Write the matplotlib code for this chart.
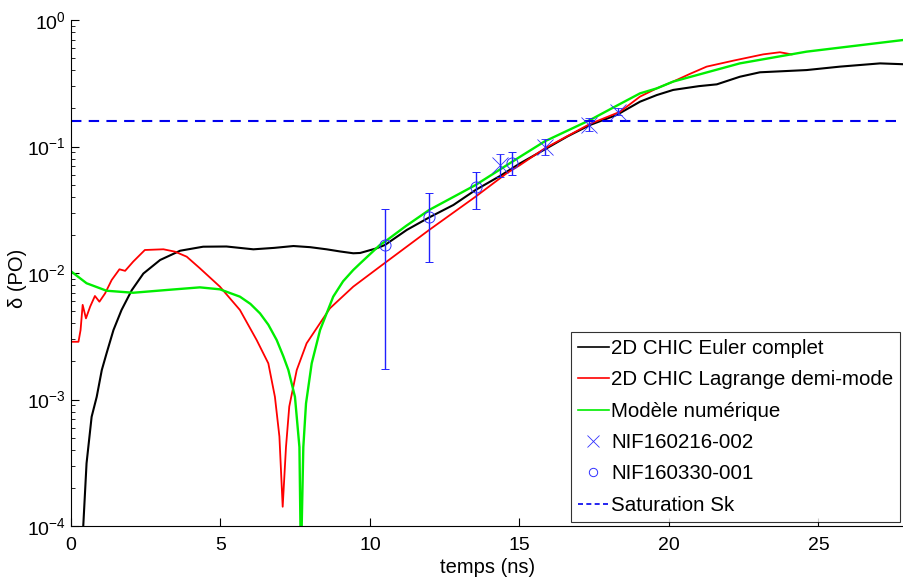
import matplotlib
matplotlib.use('Agg')
import matplotlib.pyplot as plt
from matplotlib.lines import Line2D
import numpy as np

plt.rcParams['font.family'] = ['Liberation Sans', 'DejaVu Sans']
plt.rcParams['mathtext.default'] = 'regular'

# 2D CHIC Euler complet
euler_t = [0.41, 0.52, 0.69, 0.86, 1.03, 1.19, 1.42, 1.69, 2.03, 2.42, 2.98, 3.65, 4.42,
           5.2, 6.1, 6.8, 7.44, 8.0, 8.55, 9.0, 9.44, 9.67, 10.22, 10.5, 11.23, 11.98,
           12.79, 13.53, 14.35, 15.02, 15.85, 16.6, 17.36, 18.25, 19.03, 19.59, 20.14,
           21.0, 21.6, 22.37, 23.04, 24.6, 25.72, 27.06, 27.84]
euler_d = [1.0e-4, 3.13e-4, 7.3e-4, 1.05e-3, 1.71e-3, 2.32e-3, 3.54e-3, 5.1e-3, 7.3e-3,
           9.9e-3, 0.01267, 0.0150, 0.01614, 0.0162, 0.01539, 0.0158, 0.01634, 0.0160,
           0.01539, 0.0148, 0.01432, 0.01440, 0.01567, 0.01665, 0.0219, 0.0275,
           0.0345, 0.0453, 0.0585, 0.0736, 0.0950, 0.120, 0.148, 0.1775, 0.226, 0.255, 0.280,
           0.300, 0.310, 0.356, 0.386, 0.402, 0.428, 0.454, 0.447]

# 2D CHIC Lagrange demi-mode
lag_t = [0.02, 0.25, 0.32, 0.39, 0.50, 0.64, 0.80, 0.95, 1.14, 1.36, 1.62, 1.81, 2.08,
         2.47, 3.09, 3.48, 3.87, 4.31, 4.98, 5.65, 6.21, 6.6, 6.82, 6.97, 7.08, 7.19,
         7.30, 7.55, 7.88, 8.66, 9.44, 10.33, 11.98, 13.53, 14.57, 15.02, 15.85,
         17.36, 18.36, 19.03, 19.59, 20.14, 20.7, 21.26, 22.15, 23.15, 23.71, 24.1]
lag_d = [2.86e-3, 2.86e-3, 3.54e-3, 5.6e-3, 4.38e-3, 5.42e-3, 6.58e-3, 5.93e-3, 6.9e-3,
         8.8e-3, 0.0107, 0.0104, 0.0123, 0.0152, 0.0154, 0.01474, 0.01346, 0.0109,
         7.8e-3, 5.1e-3, 2.95e-3, 1.93e-3, 1.05e-3, 5.1e-4, 1.42e-4, 4.2e-4, 8.8e-4,
         1.71e-3, 2.78e-3, 5.26e-3, 7.8e-3, 0.01122, 0.0219, 0.0401, 0.0614, 0.0714,
         0.0968, 0.151, 0.188, 0.248, 0.288, 0.326, 0.375, 0.428, 0.477, 0.535, 0.556, 0.535]

# Modele numerique
mod_t = [0.02, 0.52, 1.19, 2.08, 3.2, 4.31, 4.98, 5.65, 6.0, 6.32, 6.6, 6.88, 7.1, 7.27,
         7.49, 7.64, 7.69, 7.77, 7.86, 8.05, 8.33, 8.77, 9.1, 9.44, 9.67, 10.33, 10.5,
         11.2, 11.98, 13.53, 15.02, 15.85, 17.36, 18.25, 19.03, 19.59, 20.14, 22.37,
         24.6, 27.84]
mod_d = [0.01023, 8.3e-3, 7.24e-3, 6.98e-3, 7.34e-3, 7.7e-3, 7.43e-3, 6.5e-3, 5.7e-3,
         4.8e-3, 3.9e-3, 2.95e-3, 2.2e-3, 1.71e-3, 1.05e-3, 4.2e-4, 5e-5, 4.2e-4, 9.3e-4,
         1.93e-3, 3.54e-3, 6.5e-3, 8.6e-3, 0.01056, 0.0119, 0.01665, 0.0177, 0.0235,
         0.0315, 0.0496, 0.083, 0.110, 0.162, 0.210, 0.263, 0.288, 0.326, 0.454, 0.562,
         0.695]

# NIF160216-002 (crosses)
x1_t = [14.35, 15.85, 17.34, 18.31]
x1_d = [0.0714, 0.0985, 0.148, 0.188]
x1_lo = [0.0577, 0.0857, 0.133, 0.177]
x1_hi = [0.0867, 0.114, 0.167, 0.200]

# NIF160330-001 (circles)
c1_t = [10.5, 11.98, 13.53, 14.76]
c1_d = [0.0167, 0.0279, 0.0481, 0.0736]
c1_lo = [0.00174, 0.0123, 0.0321, 0.0595]
c1_hi = [0.0319, 0.0427, 0.0625, 0.090]

sat_sk = 0.159

fig = plt.figure(figsize=(9.04, 5.88), dpi=100)
ax = fig.add_axes([71/904, 62/588, 833/904, 506/588])

ax.plot(euler_t, euler_d, color='black', lw=1.5)
ax.plot(lag_t, lag_d, color='red', lw=1.3)
ax.plot(mod_t, mod_d, color='#00ee00', lw=1.7)

blue = '#3030ff'
x1_err = [np.array(x1_d) - np.array(x1_lo), np.array(x1_hi) - np.array(x1_d)]
ax.errorbar(x1_t, x1_d, yerr=x1_err, fmt='x', color=blue, ms=11, mew=0.6,
            ecolor='#2020ff', elinewidth=1, capsize=3)
c1_err = [np.array(c1_d) - np.array(c1_lo), np.array(c1_hi) - np.array(c1_d)]
ax.errorbar(c1_t, c1_d, yerr=c1_err, fmt='o', color=blue, ms=8, mfc='none', mew=0.7,
            ecolor='#2020ff', elinewidth=1, capsize=3)
ax.axhline(sat_sk, color='#0000ee', ls='--', lw=1.5, dashes=(5, 3.5))

ax.set_yscale('log')
ax.set_ylim(1e-4, 1)
ax.set_xlim(0, 27.86)
ax.set_xticks([0, 5, 10, 15, 20, 25])
ax.tick_params(which='both', direction='in', labelsize=14)
ax.tick_params(which='major', length=6)
ax.tick_params(which='minor', length=3)
ax.tick_params(axis='x', pad=8)
ax.spines['top'].set_visible(False)
ax.spines['right'].set_visible(False)

ax.set_xlabel('temps (ns)', fontsize=14.5, labelpad=3)
ax.set_ylabel('δ (PO)', fontsize=14.5)
ax.yaxis.set_label_coords(-0.053, 0.49)

handles = [
    Line2D([], [], color='black', lw=1.2),
    Line2D([], [], color='red', lw=1.2),
    Line2D([], [], color='#00ee00', lw=1.2),
    Line2D([], [], color=blue, ls='none', marker='x', ms=9, mew=0.6),
    Line2D([], [], color=blue, ls='none', marker='o', ms=6, mfc='none', mew=0.7),
    Line2D([], [], color='#0000ee', ls='--', lw=1.2, dashes=(3, 2)),
]
labels = ['2D CHIC Euler complet', '2D CHIC Lagrange demi-mode', 'Modèle numérique',
          'NIF160216-002', 'NIF160330-001', 'Saturation Sk']
leg = ax.legend(handles, labels, loc='lower left', bbox_to_anchor=(0.6, 0.008),
                fontsize=14.8, frameon=True, fancybox=False, edgecolor='black',
                handlelength=1.5, handletextpad=0.1, labelspacing=0.6,
                borderpad=0.35, borderaxespad=0)
leg.get_frame().set_linewidth(0.8)

fig.savefig('out.png', dpi=100)
